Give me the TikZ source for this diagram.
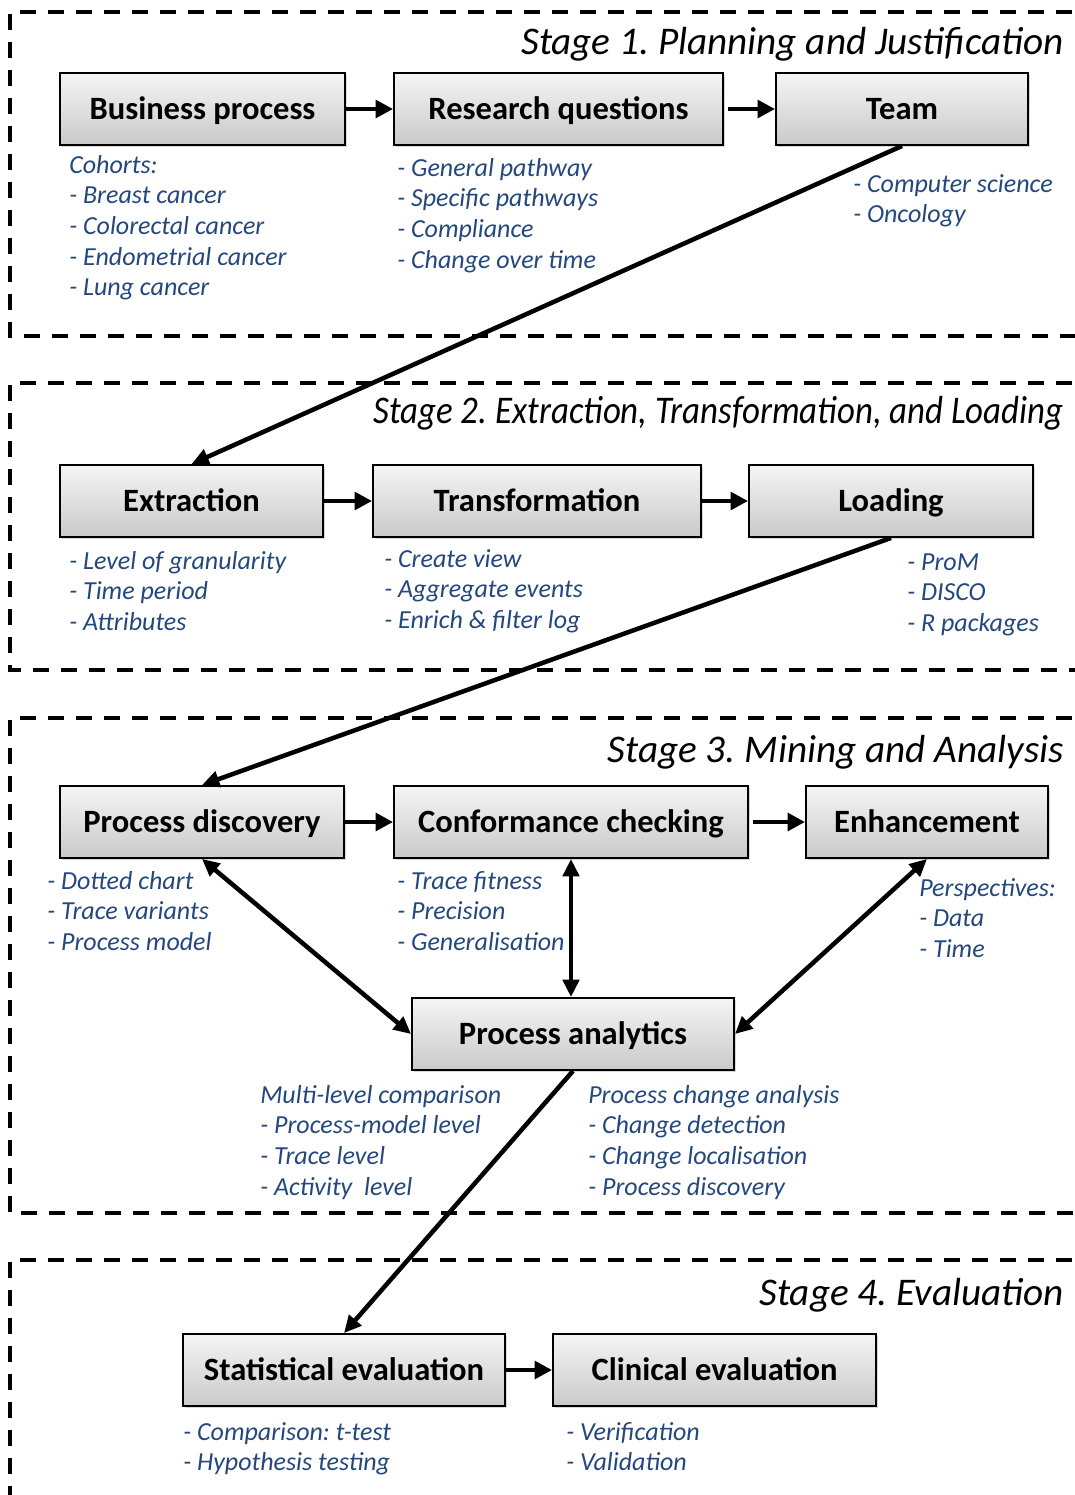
\documentclass[tikz,border=0pt]{standalone}
\usepackage{fontspec}
\setmainfont{Carlito}
\frenchspacing
\usetikzlibrary{arrows.meta,shadows,calc}
\definecolor{noteblue}{RGB}{36,72,125}
\tikzset{
  pbox/.style={draw=black, line width=1.4pt, top color=gray!8, bottom color=gray!42,
    minimum height=54pt, inner sep=0pt, font=\fontsize{24.4}{28}\selectfont\bfseries,
    text height=15.7pt, text depth=0pt,
    drop shadow={shadow xshift=1.5pt, shadow yshift=-1.5pt, opacity=0.3}},
  notes/.style={text=noteblue, font=\fontsize{19.5}{23}\selectfont\itshape,
    align=left, inner sep=0pt, anchor=north west},
  stagetitle/.style={font=\fontsize{29.4}{33}\selectfont\itshape, inner sep=0pt, anchor=base east},
  frame/.style={line width=3pt, dash pattern=on 12pt off 9pt},
  harr/.style={line width=3.6pt, -{Triangle[length=13pt,width=13pt]}},
  darr/.style={line width=3.4pt, -{Triangle[length=13pt,width=12pt]}},
  dbarr/.style={line width=3.4pt, {Triangle[length=13pt,width=12pt]}-{Triangle[length=13pt,width=12pt]}},
}
\newcommand\st{\rule{0pt}{0.8em}}
\begin{document}
\begin{tikzpicture}[x=0.75pt, y=-0.75pt]
\useasboundingbox (0,0) rectangle (1074,1495);
\fill[white] (0,0) rectangle (1074,1495);
% stage frames
\draw[frame] (1100,12) -- (10,12) -- (10,336) -- (1100,336);
\draw[frame] (1100,383) -- (10,383) -- (10,670) -- (1100,670);
\draw[frame] (1100,718) -- (10,718) -- (10,1213) -- (1100,1213);
\draw[frame] (1100,1260) -- (10,1260) -- (10,1520);
% titles
\node[stagetitle] (t1) at (1064,55) {Stage 1. Planning and Justification};
\node[stagetitle] (t2) at (1064,423) {\scalebox{0.89}[1]{Stage 2. Extraction, Transformation, and Loading}};
\node[stagetitle] (t3) at (1064,762) {Stage 3. Mining and Analysis};
\node[stagetitle] (t4) at (1064,1305) {Stage 4. Evaluation};
% boxes
\node[pbox, minimum width=213.75pt] (bp) at (202.5,109) {Business process};
\node[pbox, minimum width=246.75pt] (rq) at (558.5,109) {Research questions};
\node[pbox, minimum width=189pt] (team) at (902,109) {Team};
\node[pbox, minimum width=197.25pt] (ext) at (191.5,501) {Extraction};
\node[pbox, minimum width=246pt] (tra) at (537,501) {Transformation};
\node[pbox, minimum width=213pt] (load) at (891,501) {Loading};
\node[pbox, minimum width=213pt] (pd) at (202,822) {Process discovery};
\node[pbox, minimum width=265.5pt] (cc) at (571,822) {Conformance checking};
\node[pbox, minimum width=181.5pt] (enh) at (927,822) {Enhancement};
\node[pbox, minimum width=241.5pt] (pa) at (573,1034) {Process analytics};
\node[pbox, minimum width=241.5pt] (se) at (344,1370) {Statistical evaluation};
\node[pbox, minimum width=242.25pt] (ce) at (714.5,1370) {Clinical evaluation};
% notes
\node[notes] (n1) at (69,152) {\st Cohorts:\\- Breast cancer\\- Colorectal cancer\\- Endometrial cancer\\- Lung cancer};
\node[notes] (n2) at (397,155) {\st- General pathway\\- Specific pathways\\- Compliance\\- Change over time};
\node[notes] (n3) at (853,171) {\st- Computer science\\- Oncology};
\node[notes] (n4) at (69,548) {\st- Level of granularity\\- Time period\\- Attributes};
\node[notes] (n5) at (384,546) {\st- Create view\\- Aggregate events\\- Enrich \& filter log};
\node[notes] (n6) at (907,549) {\st- ProM\\- DISCO\\- R packages};
\node[notes] (n7) at (47,868) {\st- Dotted chart\\- Trace variants\\- Process model};
\node[notes] (n8) at (397,868) {\st- Trace fitness\\- Precision\\- Generalisation};
\node[notes] (n9) at (919,875) {\st Perspectives:\\- Data\\- Time};
\node[notes] (n10) at (260,1082) {\st Multi-level comparison\\- Process-model level\\- Trace level\\- Activity\ \ level};
\node[notes] (n11) at (588,1082) {\st Process change analysis\\- Change detection\\- Change localisation\\- Process discovery};
\node[notes] (n12) at (183,1419) {\st- Comparison: t-test\\- Hypothesis testing};
\node[notes] (n13) at (566,1419) {\st- Verification\\- Validation};
% connectors
\draw[harr] (bp.east) -- (rq.west);
\draw[harr] ([xshift=3pt]rq.east) -- (team.west);
\draw[harr] (ext.east) -- (tra.west);
\draw[harr] (tra.east) -- (load.west);
\draw[harr] (pd.east) -- (cc.west);
\draw[harr] ([xshift=3pt]cc.east) -- (enh.west);
\draw[harr] (se.east) -- (ce.west);
\draw[darr] (team.south) -- (ext.north);
\draw[darr] (load.south) -- (pd.north);
\draw[darr] (pa.south) -- (se.north);
\draw[dbarr] (pd.south) -- (pa.west);
\draw[dbarr] (cc.south) -- (cc.south |- pa.north);
\draw[dbarr] (enh.south) -- (pa.east);
\end{tikzpicture}
\end{document}
